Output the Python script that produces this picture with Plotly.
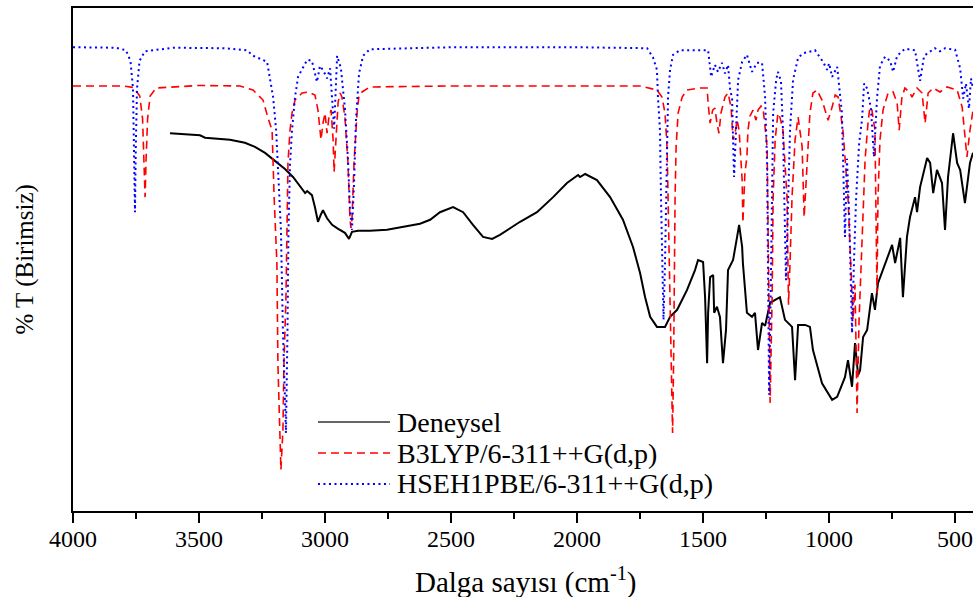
import plotly.graph_objects as go

# ---------------- data ----------------
# Experimental spectrum (Deneysel)
exp_wn = [3615, 3556, 3496, 3476, 3437, 3377, 3318, 3278, 3238, 3198, 3159, 3127, 3107, 3091,
          3079, 3071, 3052, 3040, 3028, 3016, 3008, 2992, 2972, 2948, 2921, 2905, 2893, 2869,
          2822, 2754, 2691, 2623, 2583, 2544, 2492, 2452, 2413, 2373, 2337, 2306, 2226, 2159,
          2095, 2040, 1996, 1988, 1968, 1921, 1869, 1818, 1778, 1750, 1730, 1710, 1683, 1651,
          1631, 1603, 1564, 1532, 1520, 1500, 1492, 1484, 1480, 1472, 1460, 1456, 1445, 1433,
          1421, 1409, 1401, 1381, 1365, 1357, 1345, 1342, 1326, 1306, 1294, 1282, 1266, 1254,
          1234, 1195, 1175, 1147, 1135, 1123, 1095, 1076, 1064, 1028, 988, 968, 937, 925, 909,
          897, 885, 877, 865, 849, 830, 818, 806, 778, 750, 738, 718, 707, 691, 679, 659, 651,
          639, 611, 599, 587, 572, 552, 540, 528, 508, 492, 480, 461, 441, 429]
exp_t = [75.1, 74.9, 74.7, 74.2, 74.0, 73.8, 73.2, 72.4, 71.2, 69.6, 68.0, 66.4, 65.0, 63.8,
         63.2, 63.6, 62.8, 60.4, 57.5, 59.0, 59.8, 58.2, 56.9, 56.1, 55.3, 54.1, 55.5, 55.7,
         55.7, 55.9, 56.5, 57.1, 57.9, 59.4, 60.4, 59.4, 56.9, 54.5, 54.1, 54.9, 57.5, 59.4,
         62.4, 65.2, 66.8, 66.4, 67.0, 65.8, 62.4, 57.9, 52.5, 47.3, 42.5, 38.6, 36.6, 36.6,
         38.6, 40.0, 43.9, 47.9, 49.9, 49.5, 42.5, 29.4, 39.4, 46.5, 46.9, 39.4, 40.6, 38.6,
         29.4, 36.0, 47.9, 49.9, 54.5, 56.9, 52.5, 49.3, 39.4, 38.6, 39.4, 32.0, 37.4, 36.8,
         41.4, 42.5, 38.0, 36.6, 26.0, 37.0, 37.0, 36.6, 32.0, 25.4, 22.1, 22.7, 26.6, 30.0, 24.7,
         33.4, 27.0, 28.0, 34.6, 36.0, 43.3, 40.0, 45.3, 49.3, 52.9, 49.3, 54.3, 42.5, 54.5, 58.4,
         62.4, 59.4, 64.4, 70.2, 69.2, 63.2, 67.8, 65.2, 55.9, 66.4, 75.1, 69.2, 67.8, 61.2, 69.2, 71.2]

# B3LYP/6-311++G(d,p) calculated spectrum
b3_wn = [4000, 3800, 3760, 3735, 3724, 3718, 3714, 3710, 3704, 3694, 3670, 3500, 3337, 3286,
         3246, 3226, 3210, 3202, 3191, 3187, 3179, 3175, 3167, 3163, 3155, 3151, 3147, 3139,
         3131, 3119, 3091, 3067, 3040, 3028, 3016, 3008, 3000, 2992, 2984, 2976, 2968, 2964,
         2956, 2948, 2940, 2933, 2921, 2909, 2901, 2897, 2893, 2885, 2873, 2865, 2853, 2822,
         2500, 2000, 1750, 1683, 1663, 1651, 1643, 1639, 1631, 1625, 1621, 1617, 1615, 1611,
         1607, 1599, 1583, 1564, 1512, 1484, 1480, 1472, 1462, 1453, 1445, 1437, 1429, 1413,
         1401, 1389, 1381, 1373, 1365, 1357, 1353, 1345, 1342, 1334, 1326, 1322, 1314, 1302,
         1290, 1282, 1270, 1262, 1246, 1242, 1234, 1226, 1222, 1214, 1203, 1195, 1183, 1167,
         1161, 1155, 1147, 1135, 1123, 1107, 1099, 1087, 1076, 1064, 1048, 1028, 1016, 1004,
         988, 976, 964, 945, 925, 913, 905, 897, 889, 881, 869, 857, 845, 838, 830, 818, 810,
         806, 798, 786, 766, 746, 730, 722, 711, 699, 679, 671, 651, 631, 619, 607, 587, 560,
         532, 492, 472, 461, 453, 441, 429]
b3_t = [84.5, 84.5, 84.2, 82.5, 78.0, 70.0, 62.4, 70.0, 78.0, 82.5, 84.1, 84.6, 84.5, 83.7,
        81.7, 78.1, 75.7, 62.4, 49.3, 29.4, 16.1, 8.2, 16.1, 29.4, 42.5, 55.9, 69.2, 75.7,
        79.1, 81.7, 83.1, 83.3, 82.7, 79.7, 73.8, 77.1, 79.1, 75.1, 78.5, 79.7, 73.8, 67.4,
        74.5, 81.3, 83.1, 82.3, 78.3, 69.2, 58.0, 56.3, 58.0, 69.2, 79.1, 82.7, 83.3, 84.3,
        84.5, 84.5, 84.5, 83.7, 82.3, 79.1, 72.4, 62.4, 42.5, 22.7, 15.5, 29.4, 49.3, 62.4,
        72.4, 79.1, 82.3, 83.7, 84.1, 84.1, 81.0, 77.1, 79.7, 80.1, 77.1, 75.1, 79.1, 82.3,
        83.1, 80.3, 73.8, 75.1, 77.7, 75.7, 72.4, 65.8, 57.3, 67.2, 70.4, 75.7, 78.5, 79.7,
        77.7, 79.7, 80.5, 80.1, 72.4, 55.9, 21.5, 42.5, 62.4, 73.8, 79.1, 78.3, 75.7, 62.4,
        41.0, 49.3, 62.4, 73.8, 78.3, 72.4, 58.4, 69.2, 79.1, 83.1, 83.7, 81.7, 79.7, 77.7,
        80.3, 82.7, 82.3, 75.7, 62.4, 48.0, 38.0, 45.0, 19.5, 38.0, 53.9, 70.0, 77.5, 80.3,
        79.7, 75.7, 43.3, 62.4, 73.8, 79.7, 83.1, 83.3, 81.1, 75.7, 82.3, 84.1, 83.1, 82.3,
        84.1, 83.1, 77.1, 83.1, 84.1, 83.3, 84.3, 83.7, 80.3, 73.8, 70.4, 75.7, 79.7]

# HSEH1PBE/6-311++G(d,p) calculated spectrum
hse_wn = [4000, 3830, 3790, 3772, 3762, 3757, 3754, 3751, 3746, 3736, 3715, 3600, 3400, 3310,
          3285, 3230, 3206, 3194, 3187, 3175, 3167, 3155, 3149, 3145, 3139, 3131, 3119, 3107,
          3071, 3052, 3032, 3020, 3006, 2992, 2980, 2964, 2952, 2937, 2921, 2909, 2901, 2893,
          2885, 2877, 2865, 2849, 2822, 2500, 2000, 1722, 1699, 1683, 1679, 1671, 1667, 1663,
          1657, 1651, 1647, 1643, 1639, 1631, 1619, 1592, 1480, 1468, 1453, 1441, 1425, 1413,
          1401, 1393, 1385, 1377, 1369, 1361, 1345, 1326, 1306, 1286, 1266, 1254, 1246, 1242,
          1238, 1230, 1226, 1222, 1210, 1203, 1191, 1183, 1171, 1163, 1155, 1143, 1123, 1103,
          1056, 1024, 1008, 1000, 988, 968, 949, 937, 929, 921, 909, 901, 893, 881, 869, 861,
          849, 834, 822, 810, 798, 778, 758, 746, 730, 699, 659, 639, 623, 580, 560, 540, 500,
          480, 468, 457, 445, 437, 429]
hse_t = [92.2, 92.1, 91.6, 89.5, 84.0, 72.0, 59.4, 72.0, 84.0, 89.5, 91.4, 92.1, 92.0, 91.6,
         90.5, 89.3, 82.3, 75.7, 68.8, 55.9, 35.8, 15.5, 35.8, 55.9, 68.8, 75.7, 82.3, 86.3,
         89.7, 89.5, 85.3, 88.5, 87.5, 86.0, 88.0, 76.0, 90.5, 88.0, 80.0, 70.0, 60.0, 55.9,
         65.0, 78.0, 87.0, 90.5, 91.8, 92.2, 92.2, 92.0, 90.2, 87.7, 82.3, 75.7, 62.4, 49.3,
         38.0, 49.3, 62.4, 75.7, 82.3, 87.7, 90.7, 91.6, 91.6, 86.3, 88.7, 87.3, 89.1, 87.0,
         88.7, 84.0, 82.0, 66.4, 78.0, 85.7, 89.3, 90.7, 87.3, 89.1, 89.1, 82.3, 69.2, 49.3,
         23.1, 49.3, 69.2, 79.1, 85.7, 87.3, 85.5, 75.7, 45.9, 62.4, 75.7, 85.7, 90.1, 91.0,
         91.6, 89.3, 87.7, 89.0, 86.3, 88.3, 79.1, 54.5, 70.0, 60.0, 35.4, 50.0, 62.0, 73.0, 78.0, 85.0,
         84.0, 80.0, 70.4, 82.0, 88.5, 90.3, 89.5, 87.3, 90.5, 91.9, 91.6, 85.5, 90.5, 92.0, 91.4, 92.0, 91.7,
         88.0, 82.0, 85.0, 80.0, 86.0, 84.0]

series_names = ["Deneysel", "B3LYP/6-311++G(d,p)", "HSEH1PBE/6-311++G(d,p)"]
x_tick_vals = [4000, 3500, 3000, 2500, 2000, 1500, 1000, 500]
x_title = "Dalga sayısı (cm<sup>-1</sup>)"
y_title = "% T (Birimsiz)"

# ---------------- styles ----------------
FONT = "Liberation Serif, Times New Roman, serif"
styles = [
    dict(color="#000000", width=2, dash="solid"),
    dict(color="#ff0000", width=1.6, dash="8px,5px"),
    dict(color="#0000ff", width=2, dash="2px,3.5px"),
]

fig = go.Figure()
for name, xs, ys, st in zip(series_names, [exp_wn, b3_wn, hse_wn], [exp_t, b3_t, hse_t], styles):
    fig.add_trace(go.Scatter(x=xs, y=ys, mode="lines", name=name, line=st, showlegend=False))

# Legend drawn as a key box (sample line + label) inside the plot, as in the original
legend_rows_y = [0.1769, 0.1153, 0.0537]
shapes, annotations = [], []
for name, st, yy in zip(series_names, styles, legend_rows_y):
    key_line = dict(st)
    if st["dash"] == "solid":
        key_line = dict(color="#333333", width=1.5, dash="solid")
    shapes.append(dict(type="line", xref="paper", yref="paper", x0=0.2722, x1=0.3522,
                       y0=yy, y1=yy, line=key_line))
    annotations.append(dict(text=name, xref="paper", yref="paper", x=0.3578, y=yy,
                            xanchor="left", yanchor="middle", showarrow=False,
                            font=dict(family=FONT, size=28, color="black")))

annotations.append(dict(text=x_title, xref="paper", yref="paper", x=0.503, y=-0.1372,
                        xanchor="center", yanchor="middle", showarrow=False,
                        font=dict(family=FONT, size=29, color="black")))
annotations.append(dict(text=y_title, xref="paper", yref="paper", x=-0.0544, y=0.5,
                        xanchor="center", yanchor="middle", textangle=-90, showarrow=False,
                        font=dict(family=FONT, size=25, color="black")))

fig.update_layout(
    width=973, height=597,
    margin=dict(l=73, r=0, t=8, b=86, autoexpand=False),
    paper_bgcolor="white", plot_bgcolor="white",
    font=dict(family=FONT, color="black"),
    showlegend=False,
    shapes=shapes,
    annotations=annotations,
)
fig.update_xaxes(
    range=[4000, 429], autorange=False, automargin=False,
    tickmode="array", tickvals=x_tick_vals, ticktext=[str(v) for v in x_tick_vals],
    ticks="outside", ticklen=10, tickwidth=2, tickcolor="black",
    minor=dict(dtick=250, ticks="outside", ticklen=6, tickwidth=2, tickcolor="black"),
    showline=True, linewidth=2, linecolor="black", mirror=True,
    showgrid=False, zeroline=False, ticklabelstandoff=-5, ticklabeloverflow="allow",
    tickfont=dict(family=FONT, size=24, color="black"),
)
fig.update_yaxes(
    range=[0, 100], autorange=False, automargin=False,
    showticklabels=False, ticks="",
    showline=True, linewidth=2, linecolor="black", mirror=False,
    showgrid=False, zeroline=False,
)

# remove the default page margin so the 973x597 figure fills the window exactly
fig.write_html(
    "out.html",
    config={"displayModeBar": False},
    post_script=("document.documentElement.style.overflow='hidden';"
                 "document.body.style.margin='0';document.body.style.overflow='hidden';"),
)
